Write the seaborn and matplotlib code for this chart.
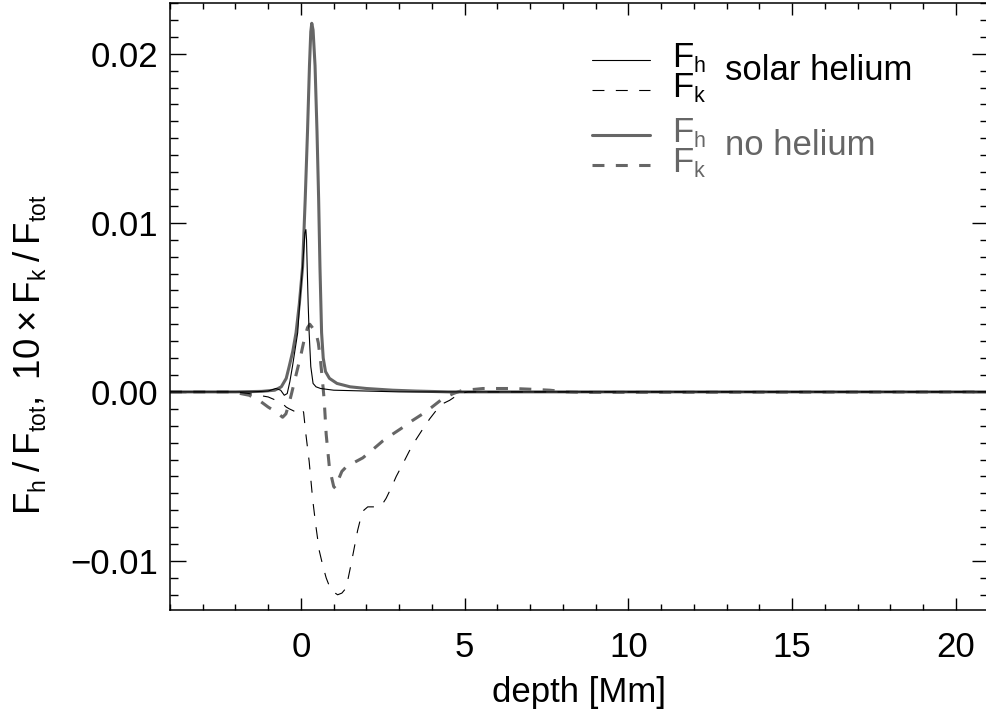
import matplotlib
matplotlib.use("Agg")
import matplotlib.pyplot as plt
import matplotlib._mathtext as _mt
import seaborn as sns
import numpy as np
from matplotlib.lines import Line2D
from matplotlib.ticker import MultipleLocator, FuncFormatter

# ---------------- data ----------------
nohe_fh_x = [-4.0, -2.0, -1.2, -0.8, -0.6, -0.45, -0.36, -0.25, -0.15, -0.05, 0.05, 0.13,
             0.20, 0.26, 0.30, 0.33, 0.37, 0.43, 0.49, 0.54, 0.58, 0.63, 0.68, 0.75, 0.87,
             1.1, 1.5, 2.0, 2.8, 3.5, 4.5, 21.0]
nohe_fh_y = [0.0, 0.0, 0.00003, 0.0001, 0.0003, 0.0008, 0.0015, 0.0024, 0.0035, 0.0052,
             0.0074, 0.0114, 0.0154, 0.0193, 0.0213, 0.0218, 0.0214, 0.0193, 0.0154, 0.0114,
             0.0074, 0.0035, 0.0020, 0.0012, 0.0008, 0.0005, 0.0003, 0.0002, 0.0001, 0.00005,
             0.0, 0.0]

solar_fh_x = [-4.0, -1.5, -1.0, -0.77, -0.62, -0.51, -0.42, -0.34, -0.26, -0.18, -0.10,
              -0.03, 0.05, 0.12, 0.15, 0.17, 0.19, 0.22, 0.25, 0.30, 0.37, 0.46, 0.6, 1.0,
              2.0, 3.0, 21.0]
solar_fh_y = [0.0, 0.0, 0.00005, 0.0002, 0.0001, -0.0002, -0.0001, 0.0006, 0.0015, 0.0025,
              0.0035, 0.0055, 0.0074, 0.0094, 0.0096, 0.0090, 0.0074, 0.0052, 0.0035, 0.0015,
              0.0005, 0.0003, 0.0002, 0.0001, 0.00005, 0.0, 0.0]

nohe_fk_x = [-4.0, -2.1, -1.58, -1.28, -1.0, -0.75, -0.56, -0.46, -0.38, -0.3, -0.2, -0.1,
             0.0, 0.1, 0.2, 0.27, 0.35, 0.46, 0.53, 0.6, 0.66, 0.71, 0.77, 0.87, 1.0, 1.05,
             1.12, 1.25, 1.4, 1.6, 1.89, 2.2, 2.5, 2.8, 3.11, 3.4, 3.72, 4.0, 4.33, 4.65,
             4.95, 5.3, 5.56, 6.0, 6.5, 7.1, 7.6, 8.1, 8.6, 21.0]
nohe_fk_y = [0.0, 0.0, -0.0002, -0.0005, -0.0009, -0.0012, -0.0015, -0.0013, -0.0008,
             -0.0002, 0.0006, 0.0014, 0.0022, 0.0031, 0.0038, 0.0040, 0.0038, 0.0035, 0.0029,
             0.0018, 0.0006, -0.0005, -0.0025, -0.0045, -0.0056, -0.0057, -0.0053, -0.0047,
             -0.0044, -0.0042, -0.0039, -0.0034, -0.0029, -0.0025, -0.0021, -0.0017, -0.0013,
             -0.0009, -0.0004, -0.0001, 0.0001, 0.00015, 0.0002, 0.0002, 0.0002, 0.00015,
             0.0001, 0.0, -0.00003, 0.0]

solar_fk_x = [-4.0, -2.0, -1.58, -1.0, -0.76, -0.56, -0.45, -0.36, -0.25, -0.15, -0.05, 0.02,
              0.08, 0.15, 0.25, 0.36, 0.46, 0.56, 0.67, 0.77, 0.87, 0.97, 1.12, 1.25, 1.38,
              1.53, 1.63, 1.73, 1.82, 1.92, 2.04, 2.2, 2.35, 2.5, 2.6, 2.75, 2.91, 3.1, 3.31,
              3.52, 3.72, 3.93, 4.13, 4.33, 4.54, 4.85, 5.1, 21.0]
solar_fk_y = [0.0, 0.0, -0.0001, -0.0003, -0.0005, -0.0007, -0.0009, -0.0010, -0.0011,
              -0.0012, -0.0011, -0.0010, -0.0012, -0.0025, -0.0041, -0.0064, -0.0080, -0.0094,
              -0.0103, -0.0110, -0.0115, -0.0118, -0.0120, -0.0119, -0.0116, -0.0102, -0.0092,
              -0.0082, -0.0075, -0.0070, -0.0068, -0.0068, -0.0068, -0.0066, -0.0063, -0.0057,
              -0.0050, -0.0043, -0.0035, -0.0028, -0.0022, -0.0016, -0.0011, -0.0007, -0.0005,
              -0.0001, 0.0, 0.0]

x_ticks = [0, 5, 10, 15, 20]
y_ticks = [-0.01, 0.0, 0.01, 0.02]
x_label = "depth [Mm]"
y_label = r"$\mathregular{F_{h}\:/\:F_{tot},\ 10\:×\:F_{k}\:/\:F_{tot}}$"
group_labels = ["solar helium", "no helium"]
key_label = "$\\mathregular{F_h}$\n$\\mathregular{F_k}$"

# ---------------- style ----------------
sns.set_theme(style="white")
plt.rcParams["font.family"] = ["Liberation Sans", "DejaVu Sans"]
plt.rcParams["mathtext.fontset"] = "custom"
plt.rcParams["mathtext.rm"] = "Liberation Sans"
plt.rcParams["mathtext.it"] = "Liberation Sans"
plt.rcParams["lines.scale_dashes"] = False
plt.rcParams["text.color"] = "black"
plt.rcParams["axes.labelcolor"] = "black"
_mt.SHRINK_FACTOR = 0.62

FS = 25
GRAY = "#666666"
DASH = (0, (8.6, 8.2))

fig = plt.figure(figsize=(9.87, 7.09), dpi=100)
ax = fig.add_axes([170 / 987, 1 - 610 / 709, 818.5 / 987, 607 / 709])

sns.lineplot(x=nohe_fh_x, y=nohe_fh_y, ax=ax, color=GRAY, linewidth=2.2,
             estimator=None, sort=False)
sns.lineplot(x=nohe_fk_x, y=nohe_fk_y, ax=ax, color=GRAY, linewidth=2.2,
             linestyle=DASH, estimator=None, sort=False)
sns.lineplot(x=solar_fh_x, y=solar_fh_y, ax=ax, color="black", linewidth=0.8,
             estimator=None, sort=False)
sns.lineplot(x=solar_fk_x, y=solar_fk_y, ax=ax, color="black", linewidth=0.8,
             linestyle=DASH, estimator=None, sort=False)

ax.set_xlim(-4, 21)
ax.set_ylim(-0.0129, 0.0230)
ax.set_xticks(x_ticks)
ax.set_yticks(y_ticks)
ax.xaxis.set_minor_locator(MultipleLocator(1))
ax.yaxis.set_minor_locator(MultipleLocator(0.001))
ax.yaxis.set_major_formatter(FuncFormatter(lambda v, p: f"{v:.2f}".replace("-", "\u2212")))
ax.xaxis.set_major_formatter(FuncFormatter(lambda v, p: f"{v:.0f}"))

for s in ax.spines.values():
    s.set_color("black")
    s.set_linewidth(1.1)

ax.tick_params(axis="both", which="both", direction="in", top=True, right=True,
               bottom=True, left=True, colors="black", width=1.0, labelsize=FS,
               labelcolor="black")
ax.tick_params(axis="x", which="major", length=8.6, pad=15)
ax.tick_params(axis="x", which="minor", length=4.2)
ax.tick_params(axis="y", which="major", length=11.5, pad=8.6)
ax.tick_params(axis="y", which="minor", length=5.8)

ax.set_xlabel(x_label, fontsize=FS, va="top", color="black")
ax.xaxis.set_label_coords(0.4995, -0.108)
ax.set_ylabel(y_label, fontsize=26.5, va="baseline", color="black")
ax.yaxis.set_label_coords(-0.1589, 0.42)

# ---------------- custom legend ----------------
AX_W = 818.5

def fx(px):
    return (px - 170) / AX_W

def fy(py):
    return (610 - py) / 607

legend_rows = [
    (60, "black", 0.8, "-"),
    (90, "black", 0.8, DASH),
    (135, GRAY, 2.2, "-"),
    (165, GRAY, 2.2, DASH),
]
for py, c, lw, ls in legend_rows:
    ax.add_line(Line2D([fx(592), fx(650)], [fy(py), fy(py)], transform=ax.transAxes,
                       color=c, linewidth=lw, linestyle=ls, clip_on=False))

# (baseline of F_k row, baseline of group label)
for (bk, bt), c, lab in zip([(97, 80), (172, 155)], ["black", GRAY], group_labels):
    ax.text(fx(672), fy(bk), key_label, transform=ax.transAxes, fontsize=FS,
            color=c, va="baseline", ha="left", linespacing=0.86)
    ax.text(fx(725), fy(bt), lab, transform=ax.transAxes, fontsize=FS, color=c,
            va="baseline", ha="left")

fig.savefig("out.png", dpi=100)
